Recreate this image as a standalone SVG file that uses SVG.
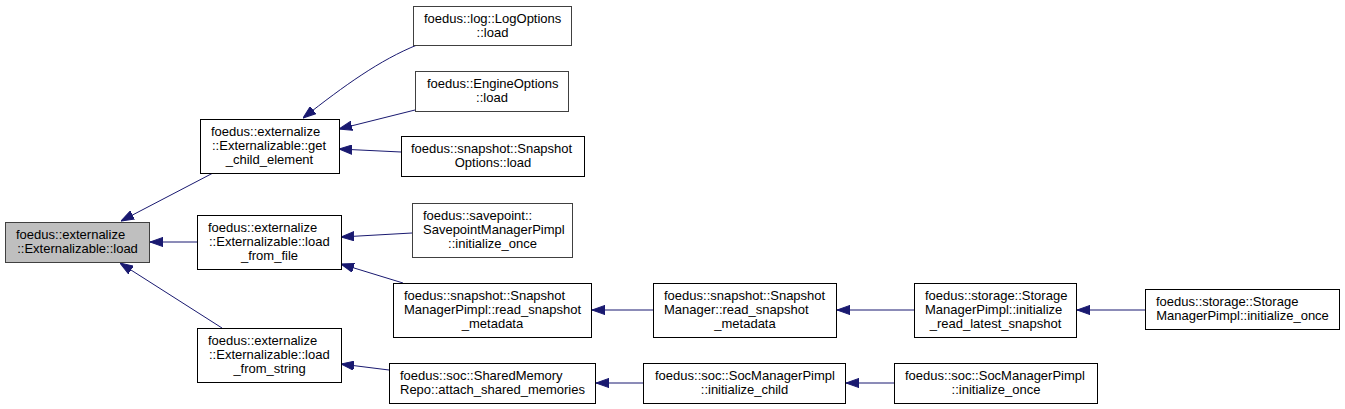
<svg xmlns="http://www.w3.org/2000/svg" width="1345" height="409" viewBox="0 0 1345 409">
<defs>
<style>
.n rect{fill:#fff;stroke:#000;stroke-width:1}
.n.root rect{fill:#bfbfbf;stroke:#404040}
.n.g rect{stroke:#404040}
text{font-family:"Liberation Sans",Arial,sans-serif;font-size:13px;fill:#000}
.s{text-anchor:start}
.m{text-anchor:middle}
.e path{fill:none;stroke:#191970;stroke-width:1;marker-end:url(#arr)}
</style>
<marker id="arr" markerUnits="userSpaceOnUse" viewBox="0 0 13 10" refX="13" refY="5" markerWidth="13" markerHeight="10" orient="auto">
<path d="M0,0.4 L13,5 L0,9.6 z" fill="#191970" stroke="#191970" stroke-width="1"/>
</marker>
</defs>
<rect width="1345" height="409" fill="#fff"/>
<g id="edges" class="e">
<path d="M213,173 L121,221"/>
<path d="M197,242 L150,242"/>
<path d="M222,328 L120,263"/>
<path d="M417,45 C380,60 345,85 303,118"/>
<path d="M415,110 L339,129"/>
<path d="M401,152 L339,149"/>
<path d="M412,233 L341,237"/>
<path d="M403,283 L341,264"/>
<path d="M389,370 L341,364"/>
<path d="M653,310 L592,310"/>
<path d="M914,310 L837,310"/>
<path d="M1145,310 L1077,310"/>
<path d="M643,383 L596,383"/>
<path d="M894,383 L846,383"/>
</g>
<g id="root" class="n root">
<rect x="5.5" y="222.5" width="144" height="40"/>
<text class="s" x="16" y="239">foedus::externalize</text>
<text class="m" x="77.5" y="253">::Externalizable::load</text>
</g>
<g id="get_child_element" class="n">
<rect x="200.5" y="119.5" width="139" height="54"/>
<text class="s" x="211" y="136">foedus::externalize</text>
<text class="s" x="212" y="150">::Externalizable::get</text>
<text class="m" x="269.5" y="164">_child_element</text>
</g>
<g id="load_from_file" class="n">
<rect x="197.5" y="215.5" width="144" height="54"/>
<text class="s" x="208" y="232">foedus::externalize</text>
<text class="s" x="209" y="246">::Externalizable::load</text>
<text class="m" x="269.5" y="260">_from_file</text>
</g>
<g id="load_from_string" class="n">
<rect x="197.5" y="328.5" width="144" height="54"/>
<text class="s" x="208" y="345">foedus::externalize</text>
<text class="s" x="209" y="359">::Externalizable::load</text>
<text class="m" x="269.5" y="373">_from_string</text>
</g>
<g id="log_options" class="n g">
<rect x="413.5" y="6.5" width="158" height="39"/>
<text class="s" x="424" y="22.5">foedus::log::LogOptions</text>
<text class="m" x="492.5" y="36.5">::load</text>
</g>
<g id="engine_options" class="n g">
<rect x="415.5" y="71.5" width="153" height="40"/>
<text class="s" x="427" y="88">foedus::EngineOptions</text>
<text class="m" x="492" y="102">::load</text>
</g>
<g id="snapshot_options" class="n">
<rect x="401.5" y="136.5" width="183" height="40"/>
<text class="s" x="411" y="153">foedus::snapshot::Snapshot</text>
<text class="m" x="493" y="167">Options::load</text>
</g>
<g id="savepoint" class="n g">
<rect x="412.5" y="203.5" width="160" height="54"/>
<text class="s" x="423" y="220">foedus::savepoint::</text>
<text class="s" x="423" y="234">SavepointManagerPimpl</text>
<text class="m" x="492.5" y="248">::initialize_once</text>
</g>
<g id="snapshot_manager_pimpl" class="n">
<rect x="393.5" y="283.5" width="198" height="54"/>
<text class="s" x="404" y="300">foedus::snapshot::Snapshot</text>
<text class="s" x="404" y="314">ManagerPimpl::read_snapshot</text>
<text class="m" x="492.5" y="328">_metadata</text>
</g>
<g id="shared_memory_repo" class="n">
<rect x="389.5" y="363.5" width="206" height="40"/>
<text class="s" x="400" y="380">foedus::soc::SharedMemory</text>
<text class="m" x="492.5" y="394">Repo::attach_shared_memories</text>
</g>
<g id="snapshot_manager" class="n">
<rect x="653.5" y="283.5" width="183" height="54"/>
<text class="s" x="664" y="300">foedus::snapshot::Snapshot</text>
<text class="s" x="664" y="314">Manager::read_snapshot</text>
<text class="m" x="745" y="328">_metadata</text>
</g>
<g id="storage_read_latest" class="n">
<rect x="914.5" y="283.5" width="162" height="54"/>
<text class="s" x="925" y="300">foedus::storage::Storage</text>
<text class="s" x="925" y="314">ManagerPimpl::initialize</text>
<text class="m" x="995.5" y="328">_read_latest_snapshot</text>
</g>
<g id="storage_initialize_once" class="n">
<rect x="1145.5" y="289.5" width="194" height="40"/>
<text class="s" x="1156" y="306">foedus::storage::Storage</text>
<text class="m" x="1242.5" y="320">ManagerPimpl::initialize_once</text>
</g>
<g id="soc_initialize_child" class="n">
<rect x="643.5" y="363.5" width="202" height="40"/>
<text class="s" x="655" y="380">foedus::soc::SocManagerPimpl</text>
<text class="m" x="744.5" y="394">::initialize_child</text>
</g>
<g id="soc_initialize_once" class="n">
<rect x="894.5" y="363.5" width="203" height="40"/>
<text class="s" x="905" y="380">foedus::soc::SocManagerPimpl</text>
<text class="m" x="996" y="394">::initialize_once</text>
</g>
</svg>
